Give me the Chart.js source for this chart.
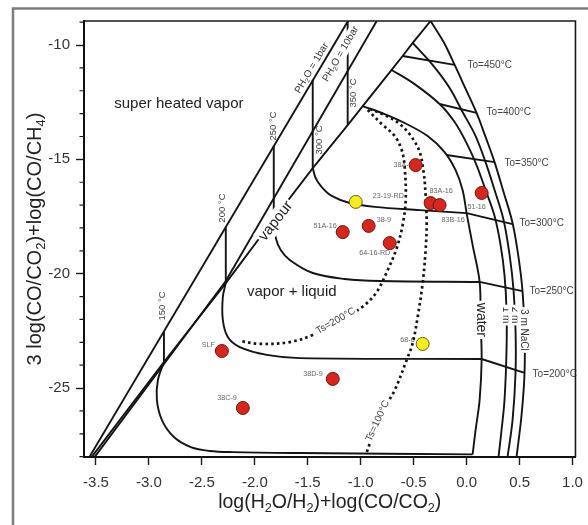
<!DOCTYPE html>
<html>
<head>
<meta charset="utf-8">
<script src="https://cdn.jsdelivr.net/npm/chart.js@4.4.1/dist/chart.umd.min.js"></script>
<style>
    html, body { margin: 0; padding: 0; background: #fff; overflow: hidden; }
    #wrap { width: 588px; height: 525px; position: relative; }
</style>
</head>
<body>
<div id="wrap"><canvas id="chart" width="588" height="525"></canvas></div>
<script>
(function () {
    'use strict';

    const FONT = "'Liberation Sans', Arial, Helvetica, sans-serif";

    // axis ticks
    const xTickValues = [-3.5, -3.0, -2.5, -2.0, -1.5, -1.0, -0.5, 0.0, 0.5, 1.0];
    const yTickValues = [-25, -20, -15, -10];
    const yMinorValues = [-28, -27, -26, -24, -23, -22, -21, -19, -18, -17, -16, -14, -13, -12, -11, -9];

    // samples
    const sampleNames = ['38A-9', '23-19-RD', '83A-16', '83B-16', '51-16', '51A-16', '38-9', '64-16-RD', 'SLF', '38C-9', '38D-9', '68-6'];
    const sampleX = [-0.481, -1.047, -0.340, -0.255, 0.142, -1.170, -0.925, -0.726, -2.311, -2.113, -1.264, -0.415];
    const sampleY = [-15.25, -16.86, -16.91, -17.00, -16.47, -18.18, -17.91, -18.66, -23.38, -25.87, -24.60, -23.07];
    const sampleGroup = ['red', 'yellow', 'red', 'red', 'red', 'red', 'red', 'red', 'red', 'red', 'red', 'yellow'];

    // vapour lines at fixed pressure and at saturation
    const line1bar = [[-3.56, -28.0], [-1.12, -8.95]];
    const line10bar = [[-3.51, -28.0], [-2.274, -20.32], [-0.849, -8.95]];
    const vapourLine = [[-3.538, -28.0], [-2.858, -23.86], [-2.274, -20.41], [-1.821, -17.61], [-1.453, -15.38],
        [-1.123, -13.50], [-0.981, -12.67], [-0.708, -11.09], [-0.604, -10.48], [-0.509, -9.91], [-0.340, -8.95]];

    // temperature marks between the vapour lines
    const iso150 = [[-2.858, -22.53], [-2.858, -23.86]];
    const iso200 = [[-2.274, -17.95], [-2.274, -20.41]];
    const iso250 = [[-1.821, -14.41], [-1.821, -17.61]];
    const iso300 = [[-1.453, -11.53], [-1.453, -15.38]];
    const iso350 = [[-1.123, -8.95], [-1.123, -13.50]];

    // liquid lines
    const waterLine = [[-0.981, -12.67], [-0.774, -13.02], [-0.585, -13.41], [-0.368, -13.98], [-0.208, -14.68],
        [-0.104, -15.47], [-0.038, -16.34], [0, -17.35], [0.057, -18.75], [0.123, -20.36], [0.132, -22.02],
        [0.142, -23.73], [0.123, -25.52], [0.085, -26.83], [0.057, -27.90]];
    const nacl1m = [[-0.708, -11.09], [-0.491, -11.71], [-0.255, -12.58], [-0.113, -13.37], [0, -14.29],
        [0.094, -15.25], [0.179, -16.34], [0.264, -17.48], [0.321, -18.75], [0.358, -20.06], [0.377, -21.59],
        [0.377, -23.34], [0.358, -25.52], [0.330, -26.83], [0.302, -28.0]];
    const nacl2m = [[-0.509, -9.91], [-0.321, -10.87], [-0.160, -11.88], [-0.038, -12.93], [0.085, -13.98],
        [0.179, -15.12], [0.264, -16.34], [0.349, -17.65], [0.406, -19.18], [0.443, -20.71], [0.462, -22.46],
        [0.462, -24.34], [0.434, -26.40], [0.387, -28.0]];
    const nacl3m = [[-0.340, -8.95], [-0.217, -9.87], [-0.113, -10.87], [-0.009, -11.92], [0.094, -12.97],
        [0.179, -14.02], [0.264, -15.12], [0.349, -16.43], [0.434, -17.78], [0.491, -19.31], [0.528, -20.76],
        [0.547, -22.46], [0.547, -24.34], [0.519, -26.18], [0.472, -28.0]];

    // To isotherms
    const to150 = [[-2.858, -23.86], [-2.915, -24.65], [-2.925, -25.52], [-2.877, -26.40], [-2.764, -27.14],
        [-2.604, -27.58], [-2.425, -27.75], [-2.208, -27.80], [-1.575, -27.84], [0.057, -27.90]];
    const to200 = [[-2.274, -20.41], [-2.302, -21.02], [-2.302, -22.02], [-2.255, -22.77], [-2.142, -23.21],
        [-1.887, -23.55], [-1.575, -23.69], [0.142, -23.73]];
    const to200Salt = [[0.142, -23.73], [0.547, -24.34]];
    const to250 = [[-1.821, -17.61], [-1.802, -18.44], [-1.755, -18.96], [-1.670, -19.40], [-1.453, -19.97],
        [-1.151, -20.23], [-0.821, -20.32], [0.123, -20.36]];
    const to250Salt = [[0.123, -20.36], [0.528, -20.76]];
    const to300 = [[-1.453, -15.38], [-1.425, -15.82], [-1.368, -16.21], [-1.274, -16.60], [-1.104, -16.91],
        [-0.868, -17.08], [-0.443, -17.22], [0, -17.35]];
    const to300Salt = [[0, -17.35], [0.434, -17.83]];
    const to350Salt = [[-0.189, -14.81], [0.264, -15.12]];
    const to400Salt = [[-0.255, -12.58], [0.094, -12.97]];
    const to450Salt = [[-0.604, -10.48], [-0.113, -10.87]];

    // Ts separation curves
    const ts200 = [[-0.934, -12.84], [-0.802, -13.45], [-0.679, -13.98], [-0.613, -14.59], [-0.585, -15.33],
        [-0.575, -16.78], [-0.604, -17.87], [-0.660, -18.88], [-0.745, -19.84], [-0.849, -20.80], [-0.962, -21.37],
        [-1.104, -21.81], [-1.264, -22.24], [-1.453, -22.68], [-1.670, -22.99], [-1.953, -23.07], [-2.142, -22.94]];
    const ts100 = [[-0.915, -12.80], [-0.774, -13.06], [-0.632, -13.45], [-0.519, -14.02], [-0.443, -14.68],
        [-0.406, -15.55], [-0.387, -16.56], [-0.377, -17.74], [-0.387, -18.96], [-0.415, -20.41], [-0.462, -21.89],
        [-0.509, -23.03], [-0.566, -23.77], [-0.679, -25.09], [-0.821, -26.27], [-0.953, -27.93]];

    // label placement for samples: dx, dy (px), align
    const sampleLabelPos = {
        '38A-9': [-3, 0, 'right'],
        '23-19-RD': [17, -6, 'left'],
        '83A-16': [-1, -12, 'left'],
        '83B-16': [2, 15, 'left'],
        '51-16': [-5, 14, 'center'],
        '51A-16': [-6, -6, 'right'],
        '38-9': [8, -6, 'left'],
        '64-16-RD': [-15, 10, 'center'],
        'SLF': [-7, -6, 'right'],
        '38C-9': [-6, -10, 'right'],
        '38D-9': [-10, -5, 'right'],
        '68-6': [-8, -4, 'right']
    };

    // text inside the plot ('_x' marks a subscript character)
    const notes = [
        { text: 'super heated vapor', x: -2.717, y: -12.58, size: 15, color: '#222' },
        { text: 'vapor + liquid', x: -1.651, y: -20.80, size: 15, color: '#222' },
        { text: 'vapour', x: -1.802, y: -17.70, size: 15, color: '#222', rotate: -52, bg: true },
        { text: 'water', x: 0.132, y: -22.02, size: 14, color: '#222', rotate: 90, bg: true },
        { text: '1 m', x: 0.368, y: -21.81, size: 10, color: '#333', rotate: 90, bg: true },
        { text: '2 m', x: 0.453, y: -21.81, size: 10, color: '#333', rotate: 90, bg: true },
        { text: '3 m NaCl', x: 0.538, y: -22.46, size: 10, color: '#333', rotate: 90, bg: true },
        { text: 'PH_2O = 1bar', x: -1.462, y: -11.01, size: 10, color: '#333', rotate: -59.4 },
        { text: 'PH_2O = 10bar', x: -1.189, y: -10.39, size: 10, color: '#333', rotate: -59.8, bg: true },
        { text: '350 °C', x: -1.066, y: -12.10, size: 9.5, color: '#444', rotate: -90 },
        { text: '300 °C', x: -1.387, y: -14.15, size: 9.5, color: '#444', rotate: -90 },
        { text: '250 °C', x: -1.821, y: -13.54, size: 9.5, color: '#444', rotate: -90 },
        { text: '200 °C', x: -2.302, y: -17.13, size: 9.5, color: '#444', rotate: -90 },
        { text: '150 °C', x: -2.877, y: -21.41, size: 9.5, color: '#444', rotate: -90 },
        { text: 'Ts=200°C', x: -1.236, y: -22.07, size: 10, color: '#444', rotate: -30, bg: true },
        { text: 'Ts=100°C', x: -0.840, y: -26.44, size: 10, color: '#444', rotate: -65, bg: true },
        { text: 'To=450°C', x: 0.009, y: -10.87, size: 10, color: '#444', align: 'left' },
        { text: 'To=400°C', x: 0.189, y: -12.93, size: 10, color: '#444', align: 'left' },
        { text: 'To=350°C', x: 0.358, y: -15.16, size: 10, color: '#444', align: 'left' },
        { text: 'To=300°C', x: 0.500, y: -17.78, size: 10, color: '#444', align: 'left' },
        { text: 'To=250°C', x: 0.594, y: -20.76, size: 10, color: '#444', align: 'left' },
        { text: 'To=200°C', x: 0.623, y: -24.39, size: 10, color: '#444', align: 'left' }
    ];

    function segments(text) {
        const out = [];
        for (let i = 0; i < text.length; i++) {
            if (text[i] === '_') {
                out.push({ t: text[i + 1], sub: true });
                i++;
            } else if (out.length && !out[out.length - 1].sub) {
                out[out.length - 1].t += text[i];
            } else {
                out.push({ t: text[i], sub: false });
            }
        }
        return out;
    }

    function drawText(ctx, text, x, y, opt) {
        const size = opt.size;
        const subSize = size * 0.65;
        const segs = segments(text);
        const fontOf = (sub) => `${sub ? subSize : size}px ${FONT}`;
        let width = 0;
        segs.forEach((s) => {
            ctx.font = fontOf(s.sub);
            s.w = ctx.measureText(s.t).width;
            width += s.w;
        });
        ctx.save();
        ctx.translate(x, y);
        if (opt.rotate) {
            ctx.rotate(opt.rotate * Math.PI / 180);
        }
        let start = opt.align === 'left' ? 0 : opt.align === 'right' ? -width : -width / 2;
        if (opt.bg) {
            ctx.fillStyle = '#fff';
            ctx.fillRect(start - 2, -size * 0.62, width + 4, size * 1.24);
        }
        ctx.fillStyle = opt.color || '#222';
        ctx.textBaseline = 'middle';
        ctx.textAlign = 'left';
        segs.forEach((s) => {
            ctx.font = fontOf(s.sub);
            ctx.fillText(s.t, start, s.sub ? size * 0.3 : 0);
            start += s.w;
        });
        ctx.restore();
    }

    const toPoints = (pairs) => pairs.map(([x, y]) => ({ x, y }));

    const lineSet = (pairs, extra) => Object.assign({
        data: toPoints(pairs),
        showLine: true,
        borderColor: '#141414',
        borderWidth: 1.9,
        pointRadius: 0,
        pointHoverRadius: 0,
        tension: 0,
        fill: false
    }, extra || {});

    const curve = { tension: 0.35 };
    const dotted = { borderDash: [2.6, 3.2], borderWidth: 2.7, tension: 0.35 };

    const samplesOf = (group) => sampleNames
        .map((name, i) => ({ x: sampleX[i], y: sampleY[i], name, group: sampleGroup[i] }))
        .filter((p) => p.group === group);

    const decorPlugin = {
        id: 'decor',
        beforeDraw(chart) {
            const ctx = chart.ctx;
            ctx.save();
            ctx.strokeStyle = '#7d7d7d';
            ctx.lineWidth = 2.5;
            ctx.beginPath();
            ctx.moveTo(13, 525);
            ctx.lineTo(13, 8.5);
            ctx.lineTo(588, 8.5);
            ctx.stroke();
            ctx.restore();
        },
        beforeDatasetsDraw(chart) {
            const ctx = chart.ctx;
            const xs = chart.scales.x;
            const ys = chart.scales.y;
            sampleNames.forEach((name, i) => {
                const pos = sampleLabelPos[name];
                drawText(ctx, name, xs.getPixelForValue(sampleX[i]) + pos[0], ys.getPixelForValue(sampleY[i]) + pos[1],
                    { size: 7.2, color: '#666', align: pos[2] });
            });
        },
        afterDatasetsDraw(chart) {
            const ctx = chart.ctx;
            const xs = chart.scales.x;
            const ys = chart.scales.y;
            const area = chart.chartArea;

            notes.forEach((n) => {
                drawText(ctx, n.text, xs.getPixelForValue(n.x), ys.getPixelForValue(n.y), n);
            });

            ctx.save();
            ctx.strokeStyle = '#1a1a1a';
            ctx.lineWidth = 1.6;
            ctx.beginPath();
            ctx.moveTo(area.left, area.top);
            ctx.lineTo(area.right, area.top);
            ctx.lineTo(area.right, area.bottom);
            ctx.stroke();

            ctx.lineWidth = 1.2;
            ctx.beginPath();
            yMinorValues.forEach((v) => {
                const py = ys.getPixelForValue(v);
                ctx.moveTo(area.left, py);
                ctx.lineTo(area.left - 4.5, py);
            });
            ctx.stroke();
            ctx.restore();
        },
        afterDraw(chart) {
            const ctx = chart.ctx;
            const area = chart.chartArea;
            drawText(ctx, 'log(H_2O/H_2)+log(CO/CO_2)', (area.left + area.right) / 2, 503, { size: 19.5, color: '#222' });
            drawText(ctx, '3 log(CO/CO_2)+log(CO/CH_4)', 35, (area.top + area.bottom) / 2, { size: 20, color: '#222', rotate: -90 });
        }
    };

    Chart.defaults.font.family = FONT;

    new Chart(document.getElementById('chart'), {
        type: 'scatter',
        data: {
            datasets: [
                {
                    data: samplesOf('red'),
                    pointRadius: 6.5,
                    pointBackgroundColor: '#d8261d',
                    pointBorderColor: '#5e1a14',
                    pointBorderWidth: 1
                },
                {
                    data: samplesOf('yellow'),
                    pointRadius: 6.5,
                    pointBackgroundColor: '#f4ec1c',
                    pointBorderColor: '#6b5d12',
                    pointBorderWidth: 1
                },
                lineSet(line1bar),
                lineSet(line10bar),
                lineSet(vapourLine),
                lineSet(iso150),
                lineSet(iso200),
                lineSet(iso250),
                lineSet(iso300),
                lineSet(iso350),
                lineSet(waterLine, curve),
                lineSet(nacl1m, curve),
                lineSet(nacl2m, curve),
                lineSet(nacl3m, curve),
                lineSet(to150, curve),
                lineSet(to200, curve),
                lineSet(to200Salt),
                lineSet(to250, curve),
                lineSet(to250Salt),
                lineSet(to300, curve),
                lineSet(to300Salt),
                lineSet(to350Salt),
                lineSet(to400Salt),
                lineSet(to450Salt),
                lineSet(ts200, dotted),
                lineSet(ts100, dotted)
            ]
        },
        options: {
            responsive: false,
            devicePixelRatio: 1,
            animation: false,
            events: [],
            layout: { padding: { top: 21, right: 12, left: 0, bottom: 0 } },
            plugins: {
                legend: { display: false },
                tooltip: { enabled: false }
            },
            scales: {
                x: {
                    type: 'linear',
                    position: 'bottom',
                    min: -3.613,
                    max: 1.028,
                    afterBuildTicks: (s) => { s.ticks = xTickValues.map((v) => ({ value: v })); },
                    afterFit: (s) => { s.height = 68; },
                    grid: { drawOnChartArea: false, drawTicks: true, tickLength: 8, tickColor: '#1a1a1a', tickWidth: 1.4 },
                    border: { display: true, color: '#111', width: 2 },
                    ticks: {
                        callback: (v) => Number(v).toFixed(1),
                        color: '#333',
                        font: { size: 15, lineHeight: 1.75 },
                        padding: 5,
                        maxRotation: 0,
                        autoSkip: false
                    }
                },
                y: {
                    type: 'linear',
                    position: 'left',
                    min: -28.015,
                    max: -8.95,
                    afterBuildTicks: (s) => { s.ticks = yTickValues.map((v) => ({ value: v })); },
                    afterFit: (s) => { s.width = 84; },
                    grid: { drawOnChartArea: false, drawTicks: true, tickLength: 8, tickColor: '#1a1a1a', tickWidth: 1.4 },
                    border: { display: true, color: '#111', width: 2 },
                    ticks: {
                        callback: (v) => String(v),
                        color: '#333',
                        font: { size: 15 },
                        padding: 6,
                        autoSkip: false
                    }
                }
            }
        },
        plugins: [decorPlugin]
    });
})();
</script>
</body>
</html>
